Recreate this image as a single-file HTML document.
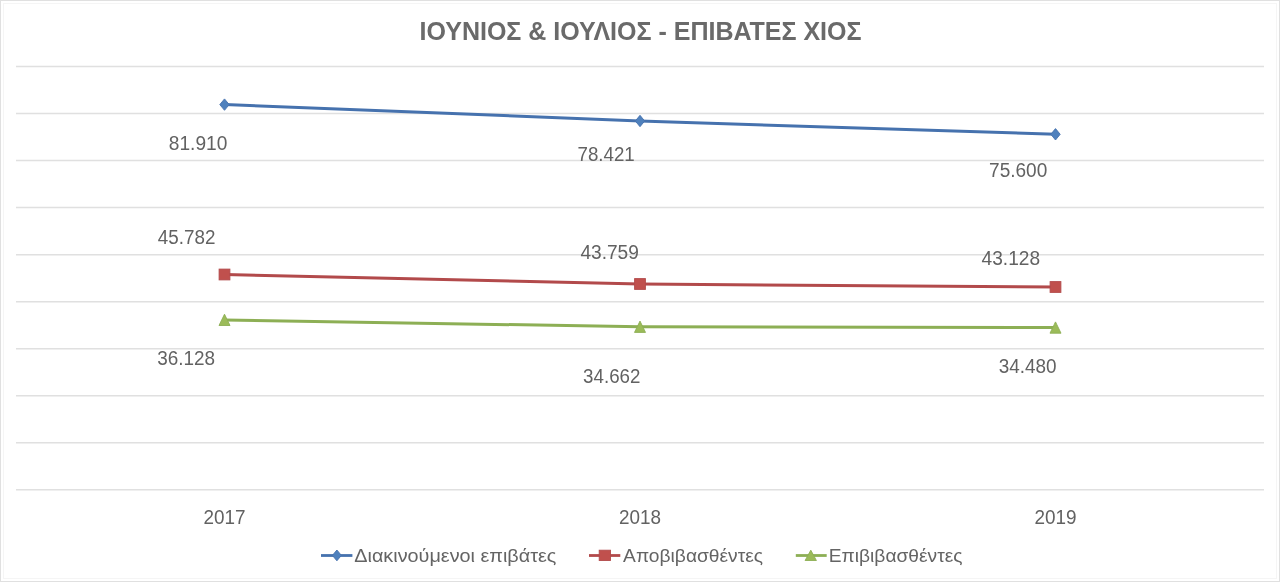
<!DOCTYPE html>
<html><head><meta charset="utf-8"><style>
html,body{margin:0;padding:0;background:#fff;}
body{width:1280px;height:582px;overflow:hidden;position:relative;}
svg{position:absolute;left:0;top:0;}
text{font-family:"Liberation Sans",sans-serif;}
svg{will-change:transform;}
</style></head><body>
<svg width="1280" height="582" viewBox="0 0 1280 582">
<rect x="0.5" y="0.5" width="1279" height="581" fill="#fff" stroke="#e0e0e0" stroke-width="1"/>
<rect x="3.5" y="3.5" width="1273" height="575" fill="none" stroke="#f5f5f5" stroke-width="1"/>
<g stroke="#e0e0e0" stroke-width="1.5"><line x1="16" x2="1264" y1="66.50" y2="66.50"/><line x1="16" x2="1264" y1="113.53" y2="113.53"/><line x1="16" x2="1264" y1="160.57" y2="160.57"/><line x1="16" x2="1264" y1="207.60" y2="207.60"/><line x1="16" x2="1264" y1="254.63" y2="254.63"/><line x1="16" x2="1264" y1="301.67" y2="301.67"/><line x1="16" x2="1264" y1="348.70" y2="348.70"/><line x1="16" x2="1264" y1="395.73" y2="395.73"/><line x1="16" x2="1264" y1="442.76" y2="442.76"/><line x1="16" x2="1264" y1="489.80" y2="489.80"/></g>
<g class="t"><text x="419.5" y="40" font-size="25.6" font-weight="bold" fill="#6a6a6a" textLength="442" lengthAdjust="spacingAndGlyphs">ΙΟΥΝΙΟΣ &amp; ΙΟΥΛΙΟΣ - ΕΠΙΒΑΤΕΣ ΧΙΟΣ</text></g>
<polyline points="224.5,104.6 640.0,121.0 1055.5,134.3" fill="none" stroke="#4672AE" stroke-width="3" stroke-linejoin="round" stroke-linecap="round"/>
<polyline points="224.5,274.5 640.0,284.0 1055.5,287.0" fill="none" stroke="#B24A4B" stroke-width="3" stroke-linejoin="round" stroke-linecap="round"/>
<polyline points="224.5,319.9 640.0,326.8 1055.5,327.6" fill="none" stroke="#8DAF55" stroke-width="3" stroke-linejoin="round" stroke-linecap="round"/>
<g fill="#4F81BD" stroke="#4672AE" stroke-width="0.9"><path d="M224.5,98.9 L229.2,104.6 L224.5,110.3 L219.8,104.6Z"/><path d="M640.0,115.3 L644.7,121.0 L640.0,126.7 L635.3,121.0Z"/><path d="M1055.5,128.6 L1060.2,134.3 L1055.5,140.0 L1050.8,134.3Z"/></g>
<g fill="#C0504D" stroke="#B24A4B" stroke-width="0.9"><rect x="219.1" y="269.1" width="10.8" height="10.8"/><rect x="634.6" y="278.6" width="10.8" height="10.8"/><rect x="1050.1" y="281.6" width="10.8" height="10.8"/></g>
<g fill="#9BBB59" stroke="#8DAF55" stroke-width="0.9"><path d="M224.5,314.2 L230.0,325.5 L219.0,325.5Z"/><path d="M640.0,321.1 L645.5,332.4 L634.5,332.4Z"/><path d="M1055.5,321.9 L1061.0,333.2 L1050.0,333.2Z"/></g>
<g class="t" font-size="19.9" fill="#626262"><text x="168.8" y="150.0" textLength="58.5" lengthAdjust="spacingAndGlyphs">81.910</text><text x="577.5" y="160.9" textLength="57.2" lengthAdjust="spacingAndGlyphs">78.421</text><text x="989.1" y="176.9" textLength="58.2" lengthAdjust="spacingAndGlyphs">75.600</text><text x="157.8" y="244.4" textLength="57.6" lengthAdjust="spacingAndGlyphs">45.782</text><text x="580.4" y="258.9" textLength="58.5" lengthAdjust="spacingAndGlyphs">43.759</text><text x="981.6" y="264.9" textLength="58.5" lengthAdjust="spacingAndGlyphs">43.128</text><text x="157.2" y="365.0" textLength="57.9" lengthAdjust="spacingAndGlyphs">36.128</text><text x="583.1" y="382.8" textLength="57.3" lengthAdjust="spacingAndGlyphs">34.662</text><text x="998.8" y="372.8" textLength="57.8" lengthAdjust="spacingAndGlyphs">34.480</text><text x="203.6" y="523.8" textLength="42.0" lengthAdjust="spacingAndGlyphs">2017</text><text x="618.9" y="523.8" textLength="42.0" lengthAdjust="spacingAndGlyphs">2018</text><text x="1034.4" y="523.8" textLength="42.1" lengthAdjust="spacingAndGlyphs">2019</text></g>
<g stroke-width="2.8">
<line x1="321" x2="352.4" y1="555.5" y2="555.5" stroke="#4672AE"/>
<path d="M336.9,550 L341.4,555.4 L336.9,560.8 L332.4,555.4Z" fill="#4F81BD" stroke="#4672AE" stroke-width="0.9"/>
<line x1="589" x2="620.3" y1="555.5" y2="555.5" stroke="#B24A4B"/>
<rect x="599.2" y="550.2" width="11.3" height="10.3" fill="#C0504D" stroke="#B24A4B" stroke-width="0.9"/>
<line x1="795.8" x2="826.7" y1="555.5" y2="555.5" stroke="#8DAF55"/>
<path d="M810.8,550.2 L816.4,560.5 L805.1,560.5Z" fill="#9BBB59" stroke="#8DAF55" stroke-width="0.9"/>
</g>
<g class="t" font-size="18.8" fill="#646464">
<text x="354.3" y="561.6" textLength="202.1" lengthAdjust="spacingAndGlyphs">Διακινούμενοι επιβάτες</text>
<text x="623.1" y="561.6" textLength="140" lengthAdjust="spacingAndGlyphs">Αποβιβασθέντες</text>
<text x="828.8" y="561.6" textLength="133.7" lengthAdjust="spacingAndGlyphs">Επιβιβασθέντες</text>
</g>
</svg>
</body></html>
